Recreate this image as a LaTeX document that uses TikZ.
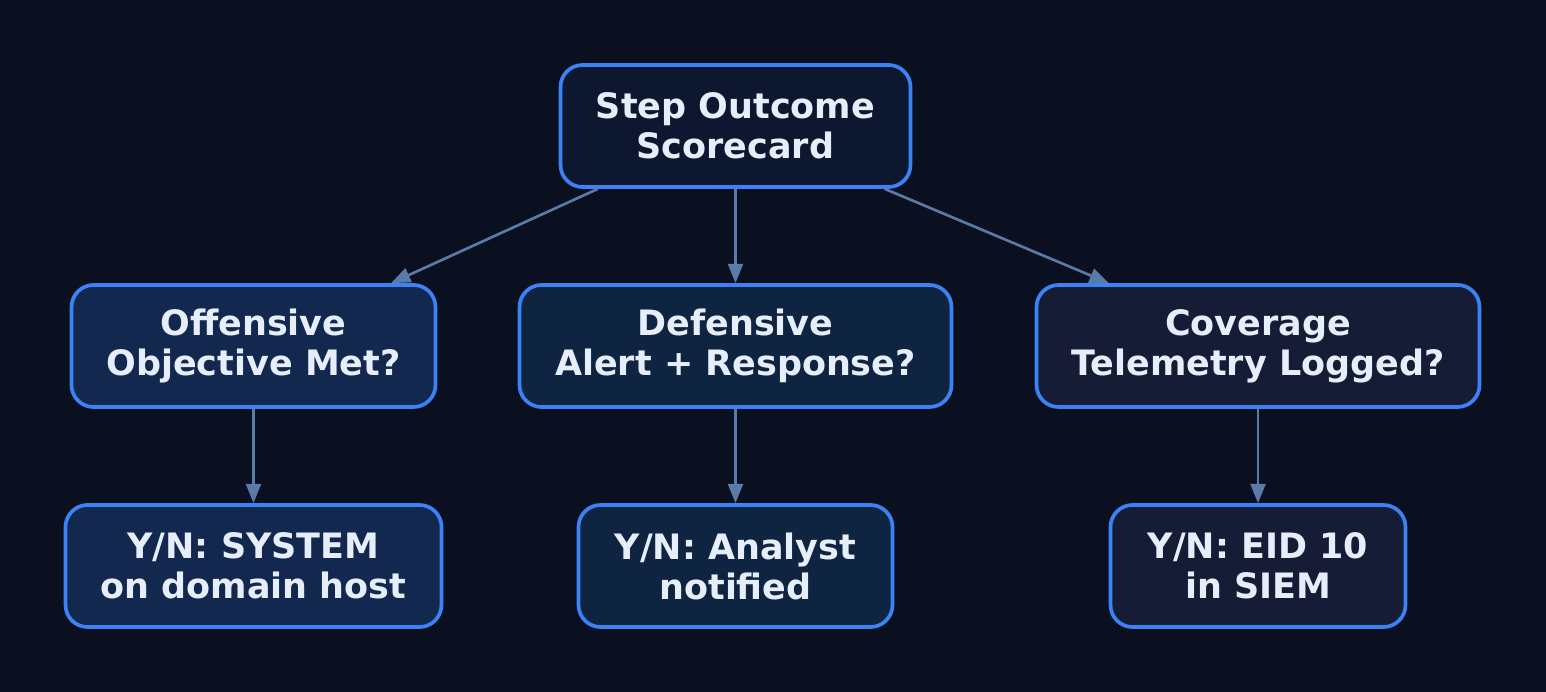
\documentclass[tikz,border=0pt]{standalone}
\usepackage{fontspec}
\setmainfont{DejaVu Sans}
\usetikzlibrary{arrows.meta}
\definecolor{bgcol}{HTML}{0B1020}
\definecolor{edgecol}{HTML}{3B82F6}
\definecolor{arrowcol}{HTML}{5A7AA8}
\definecolor{txtcol}{HTML}{E6EDFB}
\definecolor{topfill}{HTML}{0D1830}
\definecolor{offfill}{HTML}{13284F}
\definecolor{deffill}{HTML}{0F2440}
\definecolor{covfill}{HTML}{171C36}
\begin{document}
\begin{tikzpicture}[
  box/.style={draw=edgecol,line width=2.1pt,rounded corners=0.44cm,
    minimum height=2.44cm,align=center,text=txtcol,
    font=\fontsize{19.9}{22.76}\selectfont\bfseries},
  link/.style={draw=arrowcol,line width=1.5pt,-{Triangle[length=11pt,width=8.5pt]}}]
\fill[bgcol] (0,0) rectangle (30.92,-13.84);
\useasboundingbox (0,0) rectangle (30.92,-13.84);
% top
\node[box,fill=topfill,minimum width=7.0cm] (score) at (14.71,-2.52) {Step Outcome\\Scorecard};
% middle row
\node[box,fill=offfill,minimum width=7.28cm] (off) at (5.07,-6.92) {Offensive\\Objective Met?};
\node[box,fill=deffill,minimum width=8.64cm] (def) at (14.71,-6.92) {Defensive\\Alert + Response?};
\node[box,fill=covfill,minimum width=8.86cm] (cov) at (25.16,-6.92) {Coverage\\Telemetry Logged?};
% bottom row
\node[box,fill=offfill,minimum width=7.52cm] (offyn) at (5.07,-11.32) {Y/N: SYSTEM\\on domain host};
\node[box,fill=deffill,minimum width=6.28cm] (defyn) at (14.71,-11.32) {Y/N: Analyst\\notified};
\node[box,fill=covfill,minimum width=5.90cm] (covyn) at (25.16,-11.32) {Y/N: EID 10\\in SIEM};
\draw[link] (score)--(off);
\draw[link] (score)--(def);
\draw[link] (score)--(cov);
\draw[link] (off)--(offyn);
\draw[link] (def)--(defyn);
\draw[link] (cov)--(covyn);
\end{tikzpicture}
\end{document}
